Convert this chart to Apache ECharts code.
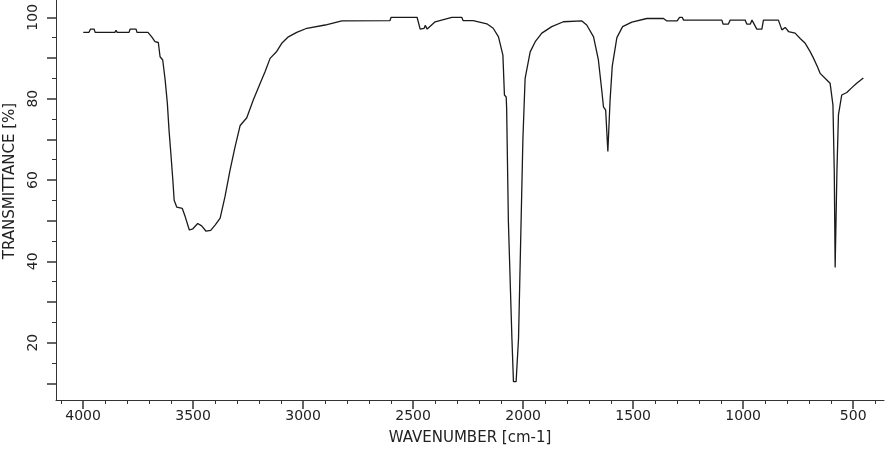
<!DOCTYPE html>
<html>
<head>
<meta charset="utf-8">
<script src="https://cdn.jsdelivr.net/npm/echarts@6/dist/echarts.min.js"></script>
<style>
html,body{margin:0;padding:0;background:#fff;}
#chart{width:886px;height:450px;}
</style>
</head>
<body>
<div id="chart"></div>
<script>
// Wavenumber (cm-1) and transmittance (%)
const wavenumbers = [3999,3973,3966,3950,3945,3855,3850,3845,3791,3786,3759,3755,3705,3688,3673,3658,3650,3638,3627,3617,3609,3601,3592,3586,3574,3549,3536,3517,3501,3479,3461,3441,3420,3400,3377,3355,3332,3309,3286,3256,3226,3195,3173,3150,3120,3097,3067,3029,2983,2900,2824,2605,2600,2482,2468,2450,2445,2436,2400,2324,2279,2273,2227,2165,2136,2112,2092,2085,2077,2075,2067,2051,2044,2032,2021,2011,2001,1991,1968,1945,1915,1870,1817,1733,1711,1680,1658,1642,1635,1625,1615,1605,1595,1574,1548,1506,1438,1362,1347,1300,1289,1277,1271,1097,1091,1068,1059,991,983,968,960,938,915,908,840,824,809,794,764,741,718,695,680,662,650,620,605,592,586,582,574,567,552,529,506,484,454];
const transmittance = [96.3,96.3,97.1,97.1,96.3,96.3,96.8,96.3,96.3,97.1,97.1,96.3,96.3,95.2,94.0,93.8,90.3,89.5,84.6,78.9,72.0,66.5,60.0,55.0,53.3,53.0,51.0,47.7,48.0,49.3,48.7,47.4,47.6,48.9,50.6,55.9,62.4,68.2,73.4,75.3,79.7,83.8,86.6,89.9,91.6,93.6,95.2,96.3,97.3,98.1,99.1,99.2,100.0,100.0,97.1,97.3,98.0,97.1,98.9,100.0,100.0,99.2,99.2,98.4,97.3,95.2,90.7,80.9,80.4,77.7,49.7,21.0,10.4,10.4,21.0,45.6,70.2,85.0,91.5,94.0,96.1,97.7,98.9,99.1,98.1,95.2,89.5,81.7,78.0,77.2,67.0,79.5,88.0,95.0,97.7,98.8,99.7,99.7,99.1,99.1,100.0,100.0,99.3,99.3,98.3,98.3,99.3,99.3,98.3,98.3,99.3,97.1,97.1,99.3,99.3,96.9,97.5,96.5,96.1,94.8,93.6,91.5,89.9,87.8,86.2,84.6,83.8,78.4,62.0,38.5,62.0,76.0,80.9,81.5,82.7,83.8,85.1];
const xMajorTicks = [4000,3500,3000,2500,2000,1500,1000,500];
const xMinorTicks = [4100,3900,3800,3700,3600,3400,3300,3200,3100,2900,2800,2700,2600,2400,2300,2200,2100,1900,1800,1700,1600,1400,1300,1200,1100,900,800,700,600,400];
const yLabelTicks = [20,40,60,80,100];
const yMajorTicks = [10,20,30,40,50,60,70,80,90,100];
const yMinorTicks = [15,25,35,45,55,65,75,85,95];

const chart = echarts.init(document.getElementById('chart'), null, {renderer:'canvas'});
const FONT = 'DejaVu Sans';
const AXIS_COLOR = '#333';
const TEXT_COLOR = '#222';
const X_MIN = 360, X_MAX = 4123, Y_MIN = 5.9, Y_MAX = 104.25;

const seriesData = wavenumbers.map((w,i)=>[w, transmittance[i]]);
const plain = v => String(v);

chart.setOption({
  animation:false,
  backgroundColor:'#fff',
  grid:{left:56, right:2, top:0, bottom:50, containLabel:false, outerBoundsMode:'none'},
  xAxis:[{
    type:'value', inverse:true, min:X_MIN, max:X_MAX,
    name:'WAVENUMBER [cm-1]', nameLocation:'middle', nameGap:31,
    nameTextStyle:{fontFamily:FONT, fontSize:15, color:TEXT_COLOR},
    axisLine:{show:true, lineStyle:{color:AXIS_COLOR, width:1}},
    axisTick:{show:true, customValues:xMajorTicks, length:9, lineStyle:{color:AXIS_COLOR, width:1.5}},
    axisLabel:{show:true, customValues:xMajorTicks, formatter:plain, margin:9, fontFamily:FONT, fontSize:14, color:TEXT_COLOR},
    splitLine:{show:false}
  },{
    type:'value', inverse:true, min:X_MIN, max:X_MAX, position:'bottom',
    axisLine:{show:false},
    axisTick:{show:true, customValues:xMinorTicks, length:4, lineStyle:{color:AXIS_COLOR, width:1}},
    axisLabel:{show:false},
    splitLine:{show:false}
  }],
  yAxis:[{
    type:'value', min:Y_MIN, max:Y_MAX,
    name:'TRANSMITTANCE [%]', nameLocation:'middle', nameGap:36,
    nameTextStyle:{fontFamily:FONT, fontSize:15, color:TEXT_COLOR, padding:[0,0,0,38]},
    axisLine:{show:true, lineStyle:{color:AXIS_COLOR, width:1}},
    axisTick:{show:true, customValues:yMajorTicks, length:9, lineStyle:{color:AXIS_COLOR, width:1.5}},
    axisLabel:{show:true, customValues:yLabelTicks, formatter:plain, rotate:90, margin:16, fontFamily:FONT, fontSize:14, color:TEXT_COLOR},
    splitLine:{show:false}
  },{
    type:'value', min:Y_MIN, max:Y_MAX, position:'left',
    axisLine:{show:false},
    axisTick:{show:true, customValues:yMinorTicks, length:4, lineStyle:{color:AXIS_COLOR, width:1}},
    axisLabel:{show:false},
    splitLine:{show:false}
  }],
  series:[{
    type:'line', xAxisIndex:0, yAxisIndex:0,
    data:seriesData, showSymbol:false, smooth:false,
    lineStyle:{color:'#1a1a1a', width:1.3},
    silent:true
  }]
});
</script>
</body>
</html>
